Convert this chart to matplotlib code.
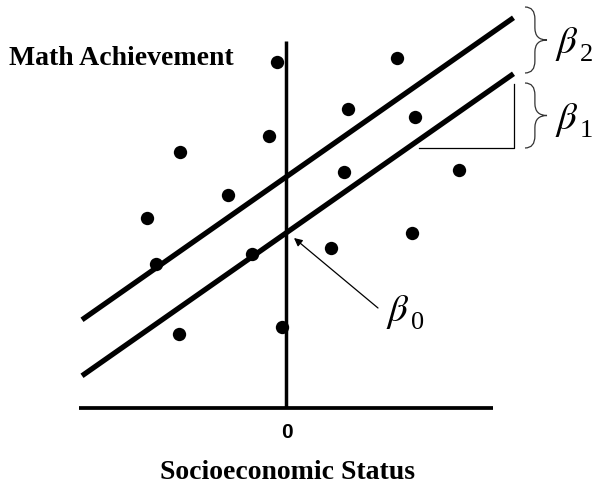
#!/usr/bin/env python3
"""Schematic: math achievement vs socioeconomic status, two parallel regression lines."""

import matplotlib
matplotlib.use("Agg")
import matplotlib.pyplot as plt
from matplotlib.path import Path
from matplotlib.patches import PathPatch

plt.rcParams["mathtext.fontset"] = "stix"

# data (SES centred at 0, achievement in arbitrary units)
ses = [-0.18, 2.22, 1.24, -2.12, -0.34, 2.58, 1.16, -1.16, 3.46, -2.78,
       -2.60, -0.68, 0.90, 2.52, -2.14, -0.08]
math_ach = [6.92, 7.00, 5.98, 5.12, 5.44, 5.82, 4.72, 4.26, 4.76, 3.80,
            2.88, 3.08, 3.20, 3.50, 1.48, 1.62]

b0 = 3.5     # intercept
b1 = 0.7     # slope
b2 = 1.12    # group shift
line_x = [-4.08, 4.55]
axis_x = [-4.14, 4.14]
axis_ytop = 7.34

fig = plt.figure(figsize=(5.93, 4.86), dpi=100)
ax = fig.add_axes([0, 0, 1, 1])
ax.set_xlim(-5.72, 6.14)
ax.set_ylim(-1.56, 8.16)
ax.axis("off")

# axes
ax.plot(axis_x, [0, 0], color="black", lw=2.7, solid_capstyle="butt")
ax.plot([0, 0], [0, axis_ytop], color="black", lw=2.5, solid_capstyle="butt")

# regression lines
lower = [b0 + b1 * x for x in line_x]
upper = [b0 + b2 + b1 * x for x in line_x]
ax.plot(line_x, lower, color="black", lw=3.8, solid_capstyle="butt")
ax.plot(line_x, upper, color="black", lw=3.8, solid_capstyle="butt")

# points
ax.plot(ses, math_ach, "o", color="black", markersize=9.6, markeredgewidth=0)

# slope triangle
tri_x0, tri_x1 = 2.66, 4.55
tri_y0 = 5.2
tri_y1 = b0 + b1 * 4.25
ax.plot([tri_x0, tri_x1, tri_x1], [tri_y0, tri_y0, tri_y1], color="black", lw=0.9)


def brace(x0, x1, ytop, ybot, r=0.24):
    xm = x0 + 0.45 * (x1 - x0)
    ym = (ytop + ybot) / 2
    verts = [(x0, ytop), (xm, ytop), (xm, ytop - r),
             (xm, ym + r), (xm, ym), (x1, ym),
             (xm, ym), (xm, ym - r),
             (xm, ybot + r), (xm, ybot), (x0, ybot)]
    codes = [Path.MOVETO, Path.CURVE3, Path.CURVE3,
             Path.LINETO, Path.CURVE3, Path.CURVE3,
             Path.CURVE3, Path.CURVE3,
             Path.LINETO, Path.CURVE3, Path.CURVE3]
    ax.add_patch(PathPatch(Path(verts, codes), fill=False, edgecolor="#333333", lw=0.9))


brace(4.78, 5.22, 8.02, 6.70)
brace(4.78, 5.22, 6.50, 5.20)


def beta(x, y, sub):
    ax.text(x, y, r"$\beta$", fontsize=28, ha="left", va="center")
    ax.text(x + 0.50, y - 0.22, sub, family="Liberation Serif", fontsize=19,
            ha="left", va="center")


beta(5.38, 7.28, "2")
beta(5.38, 5.76, "1")
beta(2.0, 1.92, "0")

ax.annotate("", xy=(0.16, 3.40), xytext=(1.84, 2.0),
            arrowprops=dict(arrowstyle="-|>", color="black", lw=0.9,
                            mutation_scale=12, shrinkA=0, shrinkB=0))

fig.text(9 / 593, 1 - 65 / 486, "Math Achievement", family="Liberation Serif",
         fontweight="bold", fontsize=20, ha="left", va="baseline")
fig.text(287 / 593, 1 - 432 / 486, "0", family="Liberation Sans",
         fontweight="bold", fontsize=15, ha="center", va="center")
fig.text(287 / 593, 1 - 479 / 486, "Socioeconomic Status", family="Liberation Serif",
         fontweight="bold", fontsize=20, ha="center", va="baseline")

fig.savefig("out.png", dpi=100)
